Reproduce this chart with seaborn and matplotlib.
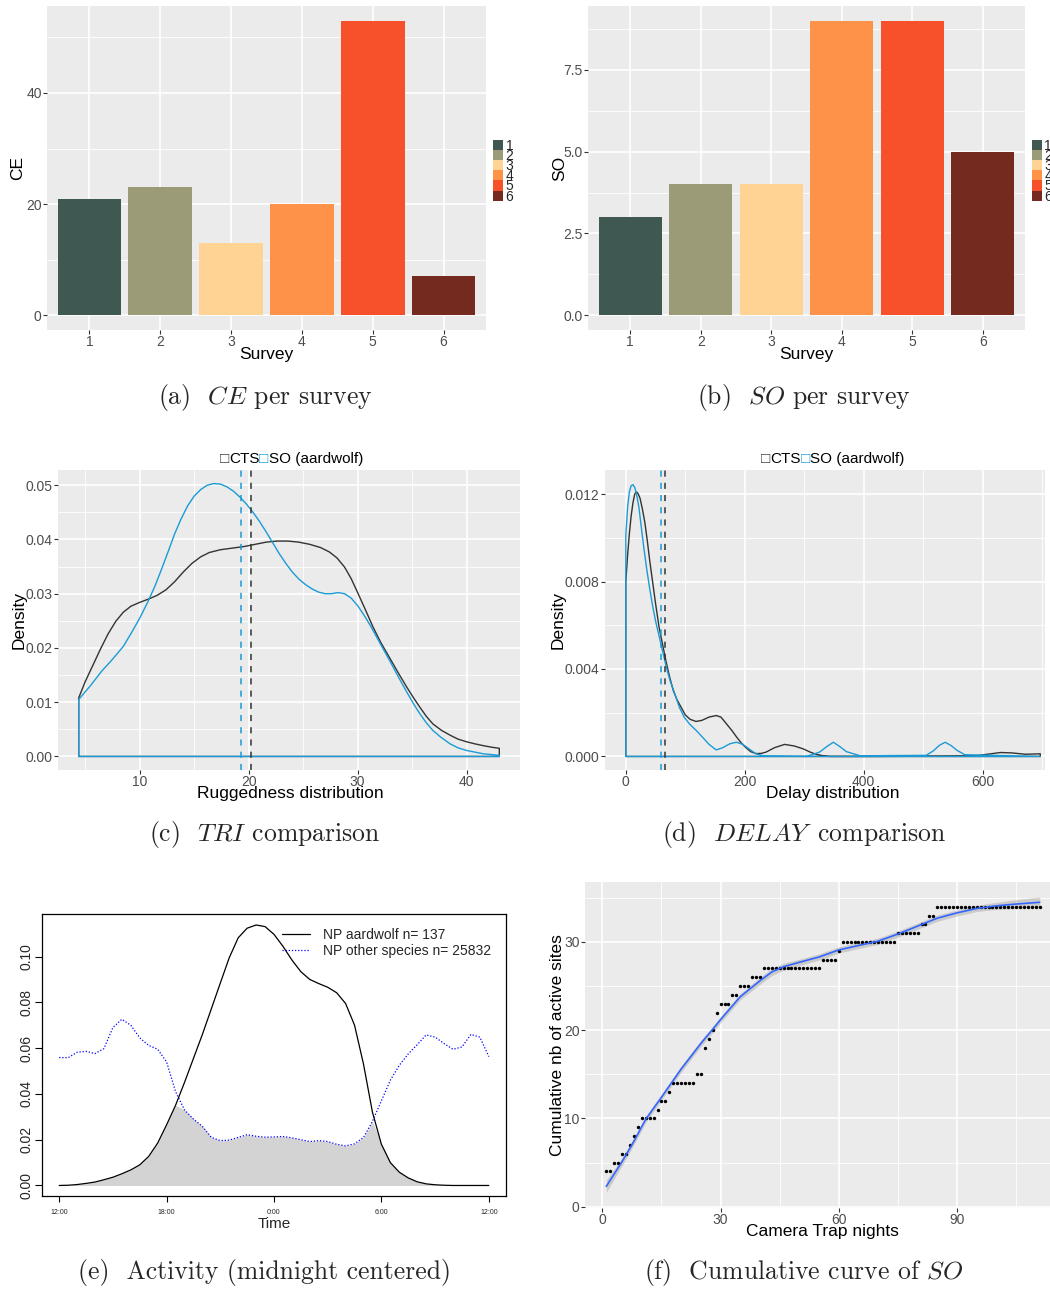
import numpy as np
import pandas as pd
import seaborn as sns
import matplotlib.pyplot as plt
from matplotlib.patches import Patch
from matplotlib.offsetbox import TextArea, HPacker, AnchoredOffsetbox

# ---------------- data ----------------
surveys = ['1', '2', '3', '4', '5', '6']
ce_values = [21, 23, 13, 20, 53, 7]
so_values = [3, 4, 4, 9, 9, 5]
survey_colors = ['#3F5851', '#9B9B77', '#FFD393', '#FF9249', '#F7512B', '#752A1F']

# TRI densities (CTS = all camera trap sites, SO = aardwolf sites)
tri_x_cts = [4.4, 5.0, 5.7, 6.4, 7.1, 7.8, 8.5, 9.2, 10.0, 10.8, 11.6, 12.4, 13.2, 14.0, 14.8,
             15.6, 16.4, 17.4, 18.5, 19.6, 20.6, 21.6, 22.6, 23.6, 24.6, 25.6, 26.6, 27.4, 28.1,
             28.8, 29.4, 30.0, 30.7, 31.4, 32.1, 32.9, 33.7, 34.5, 35.1, 35.7, 36.3, 36.9, 37.7,
             38.5, 39.2, 40.0, 40.8, 41.5, 42.3, 43.0]
tri_y_cts = [0.0108, 0.0138, 0.0168, 0.0198, 0.0226, 0.0249, 0.0266, 0.0277, 0.0284, 0.0290,
             0.0297, 0.0307, 0.0322, 0.0340, 0.0356, 0.0368, 0.0376, 0.0381, 0.0384, 0.0387,
             0.0391, 0.0395, 0.0397, 0.0397, 0.0395, 0.0391, 0.0385, 0.0377, 0.0366, 0.0349,
             0.0328, 0.0302, 0.0271, 0.0239, 0.0211, 0.0183, 0.0155, 0.0128, 0.0109, 0.0091,
             0.0074, 0.0060, 0.0048, 0.0039, 0.0032, 0.0027, 0.0023, 0.0020, 0.0017, 0.0015]
tri_x_so = [4.4, 5.5, 6.5, 7.5, 8.5, 9.3, 10.0, 10.7, 11.4, 12.0, 12.6, 13.2, 13.8, 14.4, 15.0,
            15.6, 16.2, 16.8, 17.4, 18.0, 18.6, 19.2, 19.8, 20.4, 21.0, 21.6, 22.2, 22.8, 23.4,
            24.0, 24.6, 25.2, 25.8, 26.4, 27.0, 27.6, 28.2, 28.8, 29.4, 30.0, 30.6, 31.2, 32.1,
            32.9, 33.7, 34.5, 35.1, 35.7, 36.3, 36.9, 37.6, 38.5, 39.2, 40.0, 41.5, 43.0]
tri_y_so = [0.0105, 0.0131, 0.0157, 0.0179, 0.0203, 0.0230, 0.0255, 0.0283, 0.0314, 0.0345,
            0.0377, 0.0410, 0.0438, 0.0462, 0.0480, 0.0492, 0.0500, 0.0503, 0.0502, 0.0497,
            0.0489, 0.0478, 0.0465, 0.0450, 0.0433, 0.0414, 0.0394, 0.0374, 0.0356, 0.0340,
            0.0327, 0.0317, 0.0309, 0.0303, 0.0300, 0.0300, 0.0302, 0.0300, 0.0292, 0.0278,
            0.0260, 0.0240, 0.0207, 0.0178, 0.0148, 0.0119, 0.0098, 0.0079, 0.0062, 0.0048,
            0.0036, 0.0023, 0.0016, 0.0011, 0.0005, 0.0002]
tri_mean_cts = 20.2
tri_mean_so = 19.3

# DELAY densities
delay_x_cts = [0, 3, 6, 9, 12, 15, 18, 21, 24, 28, 32, 36, 40, 45, 50, 56, 62, 68, 74, 80, 86,
               92, 100, 108, 118, 128, 140, 152, 160, 169, 178, 186, 194, 202, 210, 219, 228,
               236, 250, 267, 283, 298, 310, 320, 332, 343, 416, 585, 608, 630, 650, 672, 697]
delay_y_cts = [0.0080, 0.0092, 0.0102, 0.0110, 0.0116, 0.0120, 0.0121, 0.0120, 0.0118, 0.0113,
               0.0107, 0.0099, 0.0090, 0.0080, 0.0070, 0.0059, 0.0051, 0.0043, 0.0036, 0.0030,
               0.0026, 0.0023, 0.0019, 0.0017, 0.0016, 0.00165, 0.0018, 0.00187, 0.0018, 0.0015,
               0.0012, 0.0009, 0.00062, 0.0004, 0.00022, 0.00013, 0.00014, 0.0002, 0.0004,
               0.00055, 0.00048, 0.00035, 0.0002, 0.0001, 0.00003, 0.0, 0.0, 0.00002, 0.0001,
               0.00018, 0.00016, 0.0001, 0.00012]
delay_x_so = [0, 3, 6, 9, 12, 15, 18, 22, 26, 30, 35, 40, 45, 50, 56, 62, 68, 74, 82, 90, 98,
              107, 118, 129, 140, 152, 163, 175, 186, 197, 208, 219, 232, 304, 326, 338, 349,
              360, 371, 394, 505, 517, 527, 537, 547, 557, 570, 697]
delay_y_so = [0.0101, 0.0114, 0.0121, 0.01238, 0.01243, 0.0123, 0.0120, 0.0114, 0.0105, 0.0096,
              0.0086, 0.0077, 0.0069, 0.0062, 0.0055, 0.0048, 0.0041, 0.0035, 0.0029, 0.00225,
              0.0018, 0.00149, 0.0012, 0.00088, 0.00055, 0.0003, 0.0004, 0.00058, 0.00065,
              0.00055, 0.00033, 0.00012, 0.00002, 0.0, 0.0002, 0.00045, 0.00065, 0.00045,
              0.00022, 0.00003, 0.00005, 0.00025, 0.0005, 0.00065, 0.0005, 0.00028, 0.00008, 0.0]
delay_mean_cts = 66
delay_mean_so = 60

# activity (hours from midnight)
act_hours = [-12, -11.5, -11, -10.5, -10, -9.5, -9, -8.5, -8, -7.5, -7, -6.5, -6, -5.5, -5,
             -4.5, -4, -3.5, -3, -2.5, -2, -1.5, -1, -0.5, 0, 0.5, 1, 1.5, 2, 2.5, 3, 3.5, 4,
             4.5, 5, 5.5, 6, 6.5, 7, 7.5, 8, 8.5, 9, 9.5, 10, 10.5, 11, 11.5, 12]
act_aardwolf = [0, 0.0001, 0.0004, 0.0009, 0.0015, 0.0025, 0.0036, 0.0051, 0.0068, 0.0090,
                0.0127, 0.0185, 0.0265, 0.0350, 0.0450, 0.0555, 0.0660, 0.0772, 0.0884, 0.0995,
                0.1082, 0.1124, 0.1138, 0.1131, 0.1097, 0.1045, 0.0985, 0.0934, 0.0900, 0.0882,
                0.0866, 0.0842, 0.0795, 0.0700, 0.0530, 0.0320, 0.0180, 0.0100, 0.0058, 0.0033,
                0.0016, 0.0007, 0.0003, 0.0001, 0, 0, 0, 0, 0]
act_other = [0.0559, 0.0558, 0.0582, 0.0586, 0.0576, 0.0598, 0.0690, 0.0726, 0.0700, 0.0645,
             0.0612, 0.0595, 0.0540, 0.0410, 0.0330, 0.0290, 0.0258, 0.0210, 0.0196, 0.0198,
             0.0210, 0.0222, 0.0215, 0.0211, 0.0212, 0.0214, 0.0208, 0.0200, 0.0192, 0.0196,
             0.0192, 0.0180, 0.0173, 0.0182, 0.0210, 0.0280, 0.0370, 0.0460, 0.0525, 0.0575,
             0.0615, 0.0658, 0.0648, 0.0620, 0.0595, 0.0605, 0.0660, 0.0648, 0.0563]
act_tick_hours = [-12, -6, 0, 6, 12]
act_tick_labels = ['12:00', '18:00', '0:00', '6:00', '12:00']

# cumulative active sites
nights = list(range(1, 112))
sites = ([4, 4, 5, 5, 6, 6, 7, 8, 9, 10, 10, 10, 10, 11, 12, 12, 13] + [14] * 6 + [15, 15, 18, 19, 20, 22]
         + [23] * 3 + [24] * 2 + [25] * 3 + [26] * 3 + [27] * 15 + [28] * 4 + [29] + [30] * 14
         + [31] * 6 + [32] * 2 + [33] * 2 + [34] * 27)
smooth_x = [1, 3, 5, 8, 11, 15, 20, 25, 28, 30, 35, 40, 43, 46, 50, 55, 60, 65, 70, 75, 80, 85,
            90, 95, 100, 105, 111]
smooth_y = [2.3, 3.7, 5.1, 7.4, 9.9, 12.4, 15.6, 18.5, 20.1, 21.2, 23.8, 25.6, 26.6, 27.2, 27.7,
            28.3, 29.1, 29.6, 30.1, 30.9, 31.8, 32.7, 33.3, 33.8, 34.1, 34.3, 34.5]
smooth_se = [0.7, 0.55, 0.45, 0.4, 0.35, 0.35, 0.35, 0.35, 0.35, 0.35, 0.35, 0.4, 0.4, 0.4, 0.35,
             0.35, 0.35, 0.35, 0.35, 0.35, 0.35, 0.35, 0.35, 0.35, 0.4, 0.5, 0.6]

# ---------------- style ----------------
sns.set_theme(style="white")
plt.rcParams['font.family'] = ['Liberation Sans', 'DejaVu Sans']
plt.rcParams['mathtext.fontset'] = 'cm'

W, H = 1050, 1290
fig = plt.figure(figsize=(10.5, 12.9), dpi=100)


def px_axes(l, r, t, b):
    return fig.add_axes([l / W, 1 - b / H, (r - l) / W, (b - t) / H])


def gg(ax):
    ax.set_facecolor('#EBEBEB')
    for s in ax.spines.values():
        s.set_visible(False)
    ax.grid(True, which='major', color='white', linewidth=1.2)
    ax.grid(True, which='minor', color='white', linewidth=0.6)
    ax.tick_params(which='major', length=3, width=0.8, color='#333333', labelcolor='#4D4D4D',
                   labelsize=10, pad=0.8, bottom=True, left=True)
    ax.tick_params(which='minor', length=0)
    ax.set_axisbelow(True)


BLUE = '#1A9BD7'
DARK = '#333333'


def caption(x, y, s):
    fig.text(x / W, 1 - y / H, s, ha='center', va='center', fontsize=18.5, family='cmr10')


# ---------------- (a) and (b) ----------------
for (l, r), vals, name, yt, ylab in [((47, 486), ce_values, 'CE', ([0, 20, 40], [10, 30, 50]), None),
                                   ((588, 1025), so_values, 'SO', ([0, 2.5, 5, 7.5], [1.25, 3.75, 6.25, 8.75]),
                                    ['0.0', '2.5', '5.0', '7.5'])]:
    ax = px_axes(l, r, 6, 330)
    df = pd.DataFrame({'Survey': surveys, name: vals})
    sns.barplot(data=df, x='Survey', y=name, hue='Survey', palette=survey_colors, width=0.9,
                saturation=1, legend=False, linewidth=0, edgecolor='none', ax=ax)
    gg(ax)
    ax.set_ylim(-max(vals) * 0.05, max(vals) * 1.05)
    ax.set_xlim(-0.6, 5.6)
    ax.set_yticks(yt[0])
    if ylab:
        ax.set_yticklabels(ylab)
    ax.set_yticks(yt[1], minor=True)
    ax.set_xlabel('Survey', fontsize=12.5, color='black')
    ax.set_ylabel(name, fontsize=12.5, color='black')
    ax.xaxis.set_label_coords(0.5, -0.052)
    ax.yaxis.set_label_coords(-0.05 if name == 'CE' else -0.048, 0.5)
    handles = [Patch(facecolor=c, edgecolor='none') for c in survey_colors]
    ax.legend(handles, surveys, loc='center left', bbox_to_anchor=(1.016, 0.49), frameon=False,
              handlelength=0.75, handleheight=0.75, labelspacing=-0.28, handletextpad=0.15,
              fontsize=10, borderaxespad=0, borderpad=0)

caption(265, 397, r'(a)  $CE$ per survey')
caption(804, 397, r'(b)  $SO$ per survey')


# ---------------- (c) and (d) ----------------
def colour_title(ax, xfrac):
    tp = dict(fontsize=11)
    parts = [TextArea('\u25a1', textprops=dict(color=DARK, **tp)),
             TextArea('CTS', textprops=dict(color='black', **tp)),
             TextArea('\u25a1', textprops=dict(color=BLUE, **tp)),
             TextArea('SO (aardwolf)', textprops=dict(color='black', **tp))]
    box = HPacker(children=parts, align='baseline', pad=0, sep=0)
    anch = AnchoredOffsetbox(loc='lower center', child=box, pad=0, borderpad=0, frameon=False,
                             bbox_to_anchor=(xfrac, 1.012), bbox_transform=ax.transAxes)
    ax.add_artist(anch)


def density_outline(ax, x, y, color):
    xs = np.r_[x[0], x, x[-1], x[0]]
    ys = np.r_[0, y, 0, 0]
    sns.lineplot(x=xs, y=ys, sort=False, estimator=None, color=color, linewidth=1.0, ax=ax)


ax = px_axes(58, 520, 470, 770)
gg(ax)
density_outline(ax, tri_x_cts, tri_y_cts, DARK)
density_outline(ax, tri_x_so, tri_y_so, BLUE)
ax.axvline(tri_mean_so, color=BLUE, linestyle=(0, (4, 4)), linewidth=1.1)
ax.axvline(tri_mean_cts, color=DARK, linestyle=(0, (4, 4)), linewidth=1.1)
ax.set_xlim(2.5, 44.9)
ax.set_ylim(-0.0025, 0.0528)
ax.set_xticks([10, 20, 30, 40])
ax.set_xticks([5, 15, 25, 35], minor=True)
ax.set_yticks([0, 0.01, 0.02, 0.03, 0.04, 0.05])
ax.set_yticklabels(['0.00', '0.01', '0.02', '0.03', '0.04', '0.05'])
ax.set_yticks([0.005, 0.015, 0.025, 0.035, 0.045], minor=True)
ax.set_xlabel('Ruggedness distribution', fontsize=12.5, color='black')
ax.set_ylabel('Density', fontsize=12.5, color='black')
ax.xaxis.set_label_coords(0.502, -0.052)
ax.yaxis.set_label_coords(-0.068, 0.5)
colour_title(ax, 0.505)

ax = px_axes(605, 1045, 470, 770)
gg(ax)
density_outline(ax, delay_x_cts, delay_y_cts, DARK)
density_outline(ax, delay_x_so, delay_y_so, BLUE)
ax.axvline(delay_mean_so, color=BLUE, linestyle=(0, (4, 4)), linewidth=1.1)
ax.axvline(delay_mean_cts, color=DARK, linestyle=(0, (4, 4)), linewidth=1.1)
ax.set_xlim(-35, 705)
ax.set_ylim(-0.00062, 0.0131)
ax.set_xticks([0, 200, 400, 600])
ax.set_xticks([100, 300, 500, 700], minor=True)
ax.set_yticks([0, 0.004, 0.008, 0.012])
ax.set_yticklabels(['0.000', '0.004', '0.008', '0.012'])
ax.set_yticks([0.002, 0.006, 0.010], minor=True)
ax.set_xlabel('Delay distribution', fontsize=12.5, color='black')
ax.set_ylabel('Density', fontsize=12.5, color='black')
ax.xaxis.set_label_coords(0.518, -0.052)
ax.yaxis.set_label_coords(-0.09, 0.5)
colour_title(ax, 0.518)

caption(265, 834, r'(c)  $TRI$ comparison')
caption(804, 834, r'(d)  $DELAY\,$ comparison')

# ---------------- (e) activity ----------------
ax = px_axes(42, 506, 914, 1196)
ax.set_facecolor('white')
for s in ax.spines.values():
    s.set_visible(True)
    s.set_color('black')
    s.set_linewidth(0.9)
ax.fill_between(act_hours, 0, np.minimum(act_aardwolf, act_other), color='#D3D3D3', linewidth=0)
sns.lineplot(x=act_hours, y=act_aardwolf, color='black', linewidth=0.9, ax=ax,
             label='NP aardwolf n= 137')
sns.lineplot(x=act_hours, y=act_other, color='blue', linewidth=0.9, ax=ax,
             linestyle=(0, (1, 1.5)), label='NP other species n= 25832')
ax.set_xlim(-12.96, 12.96)
ax.set_ylim(-0.0046, 0.1186)
ax.set_xticks(act_tick_hours)
ax.set_xticklabels(act_tick_labels)
ax.set_yticks([0, 0.02, 0.04, 0.06, 0.08, 0.10])
ax.set_yticklabels(['0.00', '0.02', '0.04', '0.06', '0.08', '0.10'], rotation=90, va='center')
ax.tick_params(axis='x', length=4, width=0.8, color='black', labelsize=5, pad=5, bottom=True)
ax.tick_params(axis='y', length=5, width=0.8, color='black', labelsize=10, pad=0.8, left=True)
ax.grid(False)
ax.set_xlabel('Time', fontsize=11)
ax.set_ylabel('')
ax.xaxis.set_label_coords(0.5, -0.075)
ax.legend(loc='upper right', frameon=False, fontsize=10, handlelength=2.0, handletextpad=0.9,
          labelspacing=0.15, borderaxespad=0.3, bbox_to_anchor=(0.988, 0.985))
caption(265, 1272, '(e)  Activity (midnight centered)')

# ---------------- (f) cumulative curve ----------------
ax = px_axes(585, 1050, 882, 1208)
gg(ax)
lo = np.array(smooth_y) - np.array(smooth_se)
hi = np.array(smooth_y) + np.array(smooth_se)
ax.fill_between(smooth_x, lo, hi, color='#999999', alpha=0.4, linewidth=0, zorder=2)
sns.scatterplot(x=nights, y=sites, s=6, color='black', linewidth=0, ax=ax, zorder=3)
sns.lineplot(x=smooth_x, y=smooth_y, color='#3366FF', linewidth=1.2, ax=ax, zorder=4)
ax.set_xlim(-4.4, 113.6)
ax.set_ylim(-0.15, 36.8)
ax.set_xticks([0, 30, 60, 90])
ax.set_xticks([15, 45, 75, 105], minor=True)
ax.set_yticks([0, 10, 20, 30])
ax.set_yticks([5, 15, 25, 35], minor=True)
ax.set_xlabel('Camera Trap nights', fontsize=12.5, color='black')
ax.set_ylabel('Cumulative nb of active sites', fontsize=12.5, color='black')
ax.xaxis.set_label_coords(0.51, -0.048)
ax.yaxis.set_label_coords(-0.042, 0.5)
caption(804, 1272, r'(f)  Cumulative curve of $SO$')

fig.savefig('out.png', dpi=100, facecolor='white')
